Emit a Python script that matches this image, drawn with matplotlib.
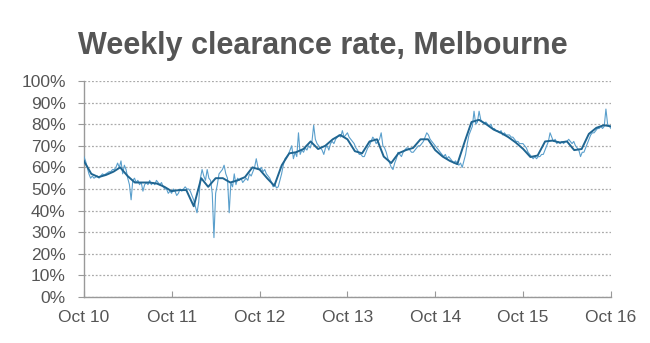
"""
Weekly auction clearance rate, Melbourne, Oct 2010 - Oct 2016.
"""

import numpy as np
import pandas as pd
import matplotlib
matplotlib.use("Agg")
import matplotlib.pyplot as plt
from matplotlib.ticker import FuncFormatter

# --- Weekly clearance rate (%), one list per Oct-Oct year ---
rate_2010 = [65, 63, 60, 57, 55, 56, 55, 55.5, 56, 55, 56, 57, 56.5, 57, 57.5, 58,
             58, 59, 59, 60, 62, 60, 63, 57, 61, 59, 55, 52, 45, 54, 55, 53,
             54, 52, 53, 49, 52, 53, 52, 54, 52, 53, 52, 54, 53, 52, 53, 51,
             50, 50, 48, 49]
rate_2011 = [48, 50, 49, 47, 48, 50, 49, 50, 51, 50, 50, 49, 47, 45, 42, 39,
             44, 55, 59, 56, 54, 59, 55, 54, 48, 27.5, 48, 52, 57, 58, 59, 61,
             57, 55, 39, 53, 51, 57, 52, 55, 54, 55, 53, 54, 55, 54, 57, 56,
             58, 60, 64, 60]
rate_2012 = [59, 60, 58, 59, 57, 56, 55, 53, 51, 52, 50.5, 51, 54, 57, 61, 64,
             65, 66, 68, 70, 64, 67, 65, 76, 66, 68, 67, 69, 68, 70, 69, 72,
             79.5, 73, 71, 70, 69, 68, 66, 69, 70, 68, 71, 72, 71, 73, 74, 75,
             74, 77, 74, 75]
rate_2013 = [76, 74, 73, 72, 71, 69, 68, 66, 66, 65, 65, 67, 69, 70, 72, 74,
             73, 71, 72, 73, 76, 70, 69, 67, 64, 62, 60, 59, 62, 64, 67, 66,
             65, 67, 68, 69, 69, 68, 67, 67, 68, 69, 70, 70, 71, 72, 74, 76,
             75, 73, 72, 71]
rate_2014 = [70, 69, 68, 67, 66, 65, 66, 64, 65, 64, 63, 62, 63, 62, 61, 62,
             60, 63, 66, 71, 75, 77, 79, 86, 80, 81, 86, 82, 81, 80, 81, 80,
             79, 80, 78, 78, 77, 77, 76, 77, 75, 76, 75, 75, 75, 74, 74, 73,
             72, 72, 71, 71]
rate_2015 = [71, 70, 69, 67, 66, 65, 64, 65, 64, 65, 65, 66, 66, 68, 70, 72,
             76, 74, 72, 73, 71, 72, 71, 72, 71, 72, 72, 73, 72, 71, 72, 70,
             69, 68, 65, 67, 67, 69, 71, 73, 75, 76, 76, 77, 78, 78, 79, 78,
             79, 87, 80, 79, 78]
year_starts = ["2010-10-01", "2011-10-01", "2012-10-01",
               "2013-10-01", "2014-10-01", "2015-10-01"]

# --- Monthly trend (%), Oct 2010 - Oct 2016 ---
trend = [63, 57, 55.5, 56.5, 58, 60, 56, 53, 53, 53, 52.5, 51,
         49, 49.5, 49.5, 42, 55, 51, 55, 55, 53, 54, 55.5, 60,
         59, 55, 51.5, 61, 66.5, 67, 68.5, 72, 68.5, 70, 73, 75,
         73, 67.5, 66.5, 72, 73, 65, 62, 66.5, 68, 69, 73, 73,
         68, 65, 63, 61.5, 72, 81, 82, 80, 77.5, 76, 74, 71.5,
         68.6, 64.8, 65.5, 72, 72.4, 71.5, 72, 68, 68.5, 75.5, 78.3, 79.5,
         79]

tick_years = ["Oct 10", "Oct 11", "Oct 12", "Oct 13", "Oct 14", "Oct 15", "Oct 16"]

# --- Build weekly series ---
yearly = [rate_2010, rate_2011, rate_2012, rate_2013, rate_2014, rate_2015]
week_dates = []
week_vals = []
for start, vals in zip(year_starts, yearly):
    n = len(vals)
    end = pd.Timestamp(start) + pd.DateOffset(years=1)
    if n == 53:
        # last year runs through to Oct 2016 inclusive
        d = pd.date_range(start, end, periods=n)
    else:
        d = pd.date_range(start, end, periods=n + 1)[:-1]
    week_dates.extend(d)
    week_vals.extend(vals)
weekly = pd.Series(week_vals, index=pd.DatetimeIndex(week_dates))
trend_s = pd.Series(trend, index=pd.date_range("2010-10-01", periods=len(trend), freq="MS"))

# --- Plot ---
grey = "#555555"
plt.rcParams["font.family"] = ["Liberation Sans", "DejaVu Sans"]

fig = plt.figure(figsize=(6.5, 3.43), dpi=100)
ax = fig.add_axes([0.129, 0.134, 0.811, 0.63])

ax.plot(weekly.index, weekly.values, color="#5a9fcc", lw=0.8, zorder=3)
ax.plot(trend_s.index, trend_s.values, color="#1f6591", lw=1.4, zorder=4)

ax.set_ylim(0, 100)
ax.set_yticks(np.arange(0, 101, 10))
ax.yaxis.set_major_formatter(FuncFormatter(lambda v, _: f"{v:.0f}%"))

xticks = pd.to_datetime([f"20{lbl[-2:]}-10-01" for lbl in tick_years])
ax.set_xlim(xticks[0], xticks[-1])
ax.set_xticks(xticks)
ax.set_xticklabels(tick_years)

ax.grid(axis="y", color="#aaaaaa", linestyle=(0, (1.5, 1.5)), lw=0.9, zorder=1)
for s in ["top", "right"]:
    ax.spines[s].set_visible(False)
for s in ["left", "bottom"]:
    ax.spines[s].set_color("#999999")
    ax.spines[s].set_linewidth(1.0)

ax.tick_params(axis="y", direction="out", length=4, width=0.8, color="#999999",
               pad=9, labelsize=12.5, labelcolor=grey)
ax.tick_params(axis="x", direction="in", length=4, width=0.8, color="#999999",
               pad=9, labelsize=12.5, labelcolor=grey)

fig.text(0.497, 0.866, "Weekly clearance rate, Melbourne", ha="center", va="center",
         fontsize=22, fontweight="bold", color=grey)

fig.savefig("out.png", dpi=100, facecolor="white")
